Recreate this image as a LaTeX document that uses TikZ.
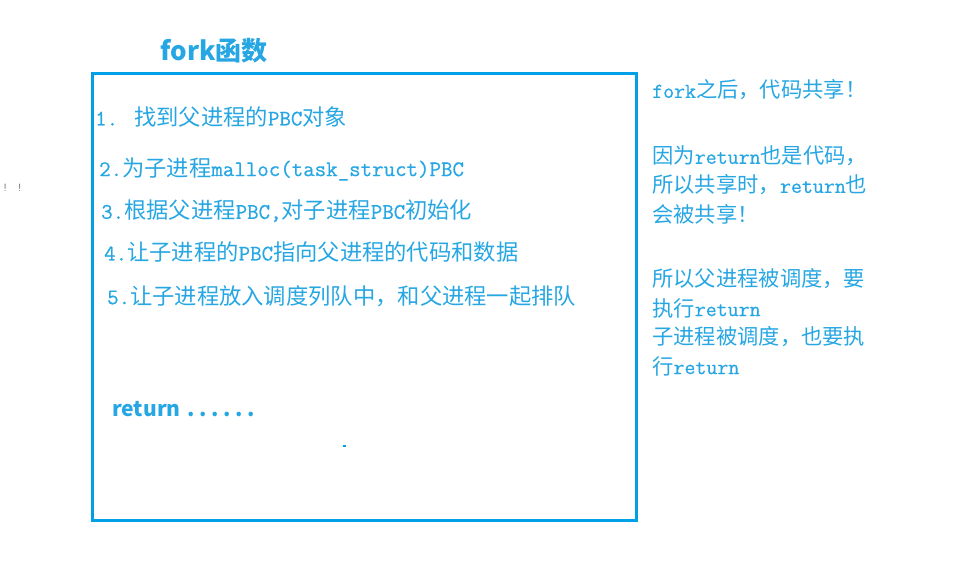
\documentclass[tikz,border=0pt]{standalone}
\usepackage{fontspec}
\setmainfont{Noto Sans CJK SC}
\newfontfamily\latf{Latin Modern Mono}[FakeBold=0.6]
\newcommand\lat[1]{{\latf #1}}
\newcommand\dotsp{\hspace{4.6pt}.}
\definecolor{boxblue}{RGB}{0,160,230}
\definecolor{txtblue}{RGB}{38,166,226}
\begin{document}
\begin{tikzpicture}[x=1pt,y=-1pt,
  item/.style={anchor=west,inner sep=0pt,text=txtblue,font=\fontsize{22.3}{26}\selectfont},
  note/.style={anchor=west,inner sep=0pt,text=txtblue,font=\fontsize{21.3}{25}\selectfont},
  title/.style={inner sep=0pt,text=txtblue,font=\fontsize{26}{30}\selectfont\bfseries},
  frame/.style={draw=boxblue,line width=3pt}]
\useasboundingbox (0,0) rectangle (954,576);
\node[frame,minimum width=544.5pt,minimum height=447pt,inner sep=0pt,anchor=north west] (box) at (90.5,71.5) {};
\node[title] (t) at (214,51) {fork函数};
\node[item] (i1) at (95,117) {\lat{1.}\hspace{16pt}找到父进程的\lat{PBC}对象};
\node[item] (i2) at (99,169) {\lat{2.}为子进程\lat{malloc(task\_struct)PBC}};
\node[item] (i3) at (101,211) {\lat{3.}根据父进程\lat{PBC,}对子进程\lat{PBC}初始化};
\node[item] (i4) at (104,252) {\lat{4.}让子进程的\lat{PBC}指向父进程的代码和数据};
\node[item] (i5) at (107,296) {\lat{5.}让子进程放入调度列队中，和父进程一起排队};
\node[anchor=west,inner sep=0pt,text=txtblue,font=\fontsize{21}{25}\selectfont\bfseries] (ret) at (112,409) {return\hspace{7pt}.\dotsp\dotsp\dotsp\dotsp\dotsp};
\node[note] (n1) at (652,90) {\lat{fork}之后，代码共享！};
\node[note] (n2) at (652,156) {因为\lat{return}也是代码，};
\node[note] (n3) at (652,185) {所以共享时，\lat{return}也};
\node[note] (n4) at (652,214) {会被共享！};
\node[note] (n5) at (652,279) {所以父进程被调度，要};
\node[note] (n6) at (652,308) {执行\lat{return}};
\node[note] (n7) at (652,337) {子进程被调度，也要执};
\node[note] (n8) at (652,366) {行\lat{return}};
\node[anchor=west,inner sep=0pt,text=gray,font=\fontsize{12}{14}\selectfont\ttfamily] (ex) at (2,188) {! !};
\fill[boxblue] (343,445) rectangle (345.5,447);
\end{tikzpicture}
\end{document}
